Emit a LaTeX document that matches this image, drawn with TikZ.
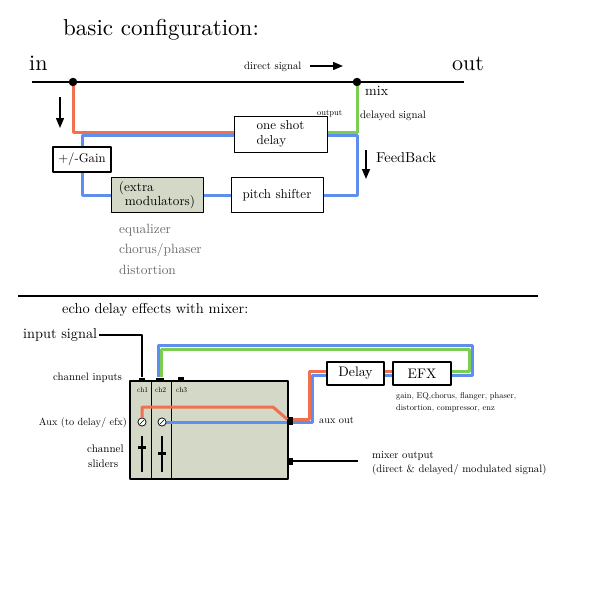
\documentclass[tikz,border=0pt]{standalone}
\usepackage{fontspec}
\setmainfont{lmroman10-regular.otf}
\usetikzlibrary{arrows.meta}
\definecolor{sigred}{RGB}{240,112,80}
\definecolor{sigblue}{RGB}{96,142,238}
\definecolor{siggreen}{RGB}{122,206,82}
\definecolor{panel}{RGB}{211,216,199}
\definecolor{fxgray}{RGB}{105,105,105}
\newcommand{\fsz}[1]{\fontsize{#1}{#1}\selectfont}
\begin{document}
\begin{tikzpicture}[x=1pt, y=-1pt, line join=round,
    txt/.style={inner sep=0pt, anchor=base west},
    box/.style={draw, line width=1pt, fill=white, inner sep=0pt, align=left,
      font=\fontsize{13}{15}\selectfont},
    sig/.style={line width=3pt},
    dot/.style={circle, fill, inner sep=0pt, minimum size=8.5pt},
    port/.style={fill, inner sep=0pt, minimum width=6pt, minimum height=4pt},
    knob/.style={circle, draw, fill=white, line width=0.6pt, inner sep=0pt, minimum size=8pt},
    arr/.style={-{Triangle[length=10pt,width=8pt]}, line width=1.4pt}]
  \useasboundingbox (0,0) rectangle (600,600);
  % basic configuration: the through line, in and out
  \node[txt, font=\fsz{23}] (title) at (63,35) {basic configuration:};
  \node[txt, font=\fsz{22}] (in) at (29,70) {in};
  \node[txt, font=\fsz{22}] (out) at (452,70) {out};
  \coordinate (lineL) at (32,82);
  \coordinate (lineR) at (464,82);
  \draw[line width=2.7pt] (lineL) -- (lineR);
  \node[dot] (split) at (73,82) {};
  \node[dot] (mix) at (357,82) {};
  \node[txt, font=\fsz{10.7}] (direct) at (244,69) {direct signal};
  \coordinate (dirA) at (310,66); \coordinate (dirB) at (343,66);
  \draw[arr] (dirA) -- (dirB);
  \node[txt, font=\fsz{14}] (mixlbl) at (365,95) {mix};
  \node[txt, font=\fsz{10.8}] (dlylbl) at (360,118) {delayed signal};
  \node[txt, font=\fsz{8.5}] (outlbl) at (317,115) {output};
  % the boxes of the loop
  \node[box, minimum width=93pt, minimum height=36pt] (delay) at (280.5,134) {one shot\\delay};
  \node[box, line width=1.6pt, minimum width=58pt, minimum height=25pt, font=\fsz{12.7}] (gain) at (82,159.5) {+/-Gain};
  \node[box, fill=panel, minimum width=92pt, minimum height=35pt, font=\fontsize{13.2}{14}\selectfont] (mods) at (157,195) {(extra\\\hspace*{6pt}modulators)};
  \node[box, minimum width=92pt, minimum height=35pt] (pitch) at (277,195) {pitch shifter};
  % signal lines
  \coordinate (dinR) at ([yshift=1.6pt]delay.west);
  \coordinate (dinB) at ([yshift=-1.6pt]delay.west);
  \coordinate (doutG) at ([yshift=1.6pt]delay.east);
  \coordinate (doutB) at ([yshift=-1.6pt]delay.east);
  \draw[sig, sigred] (split.south) |- (dinR);
  \draw[sig, sigblue] (dinB) -| (gain.north);
  \draw[sig, sigblue] (gain.south) |- (mods.west);
  \draw[sig, sigblue] (mods.east) -- (pitch.west);
  \draw[sig, sigblue] (pitch.east) -| (doutB -| mix) -- (doutB);
  \draw[sig, siggreen] (mix.south) |- (doutG);
  % arrows
  \coordinate (gainA) at (60,97); \coordinate (gainB) at (60,128);
  \draw[arr] (gainA) -- (gainB);
  \coordinate (fbA) at (366,150); \coordinate (fbB) at (366,179);
  \draw[arr] (fbA) -- (fbB);
  \node[txt, font=\fsz{14.4}] (fb) at (376,162) {FeedBack};
  % what the modulators can be
  \node[txt, font=\fsz{13.4}, text=fxgray] (fx1) at (119,233) {equalizer};
  \node[txt, font=\fsz{13.4}, text=fxgray] (fx2) at (119,253) {chorus/phaser};
  \node[txt, font=\fsz{13.4}, text=fxgray] (fx3) at (119,274) {distortion};
  \coordinate (sepL) at (18,296); \coordinate (sepR) at (538,296);
  \draw[line width=1.2pt] (sepL) -- (sepR);

  % echo delay with a mixer
  \node[txt, font=\fsz{14.4}] (title2) at (62,313) {echo delay effects with mixer:};
  \node[txt, font=\fsz{14.3}] (insig) at (23,338) {input signal};
  \node[draw, line width=1.3pt, fill=panel, minimum width=158pt, minimum height=98pt, inner sep=0pt] (mixer) at (209,430) {};
  \foreach \x in {22,42} {
    \draw[line width=0.8pt] ([xshift=\x pt]mixer.north west) -- ([xshift=\x pt]mixer.south west);
  }
  \node[port] (in1) at (142,379.5) {};
  \node[port, minimum width=8pt] (in2) at (160,379.5) {};
  \node[port] (in3) at (181,379) {};
  \foreach \x/\n in {137/1,155/2,176/3} {
    \node[txt, font=\fsz{7.5}] (ch\n) at (\x,392) {ch\n};
  }
  \node[txt, font=\fsz{10.8}] (chin) at (53,380) {channel inputs};
  \node[txt, anchor=base east, font=\fsz{10.3}] (auxlbl) at (127,425) {Aux (to delay/ efx)};
  \node[txt, font=\fsz{11}] (sl1) at (87,452) {channel};
  \node[txt, font=\fsz{11}] (sl2) at (88,467) {sliders};
  % sliders
  \draw[line width=1.2pt] (142,436) -- (142,472);
  \draw[line width=1.2pt] (162,436) -- (162,472);
  \fill (138,445.5) rectangle (146,448.5);
  \fill (158,451.5) rectangle (166,454.5);
  \node[port, minimum width=5pt, minimum height=8pt] (auxo) at (290,421) {};
  \node[port, minimum width=5pt, minimum height=7pt] (mixo) at (290,461) {};
  % aux sends inside the mixer
  \node[knob] (k1) at (142,422) {};
  \node[knob] (k2) at (162,422) {};
  \coordinate (bend) at (273,407);
  \draw[sig, sigred] (k1.north) |- (bend) -- ([yshift=1.6pt]auxo.west);
  \draw[sig, sigblue] (k2.east) -- (auxo.west |- k2.east);
  \foreach \k in {k1,k2} {
    \node[knob] at (\k) {};
    \draw[line width=0.6pt] ([shift={(-2,2)}]\k.center) -- ([shift={(2,-2)}]\k.center);
  }
  % delay and effects, back into ch2
  \node[box, line width=1.3pt, minimum width=57pt, minimum height=23pt, font=\fsz{13.8}] (dl) at (355.5,373.5) {Delay};
  \node[box, line width=1.3pt, minimum width=58pt, minimum height=23pt, font=\fsz{13.8}] (efx) at (422,373.5) {EFX};
  \coordinate (dlR) at ([yshift=1.6pt]dl.west);
  \coordinate (dlB) at ([yshift=-1.6pt]dl.west);
  \draw[sig, sigred] ([yshift=1.6pt]auxo.east) -| ([xshift=-17pt]dlR) -- (dlR);
  \draw[sig, sigblue] ([yshift=-1.6pt]auxo.east) -| ([xshift=-13.8pt]dlB) -- (dlB);
  \draw[sig, sigred] ([yshift=1.6pt]dl.east) -- ([yshift=1.6pt]efx.west);
  \draw[sig, sigblue] ([yshift=-1.6pt]dl.east) -- ([yshift=-1.6pt]efx.west);
  \coordinate (loopG) at (469.5,349);
  \coordinate (loopB) at (472.7,345.8);
  \draw[sig, siggreen] ([yshift=1.6pt]efx.east) -| (loopG) -| ([xshift=1.6pt]in2.north);
  \draw[sig, sigblue] ([yshift=-1.6pt]efx.east) -| (loopB) -| ([xshift=-1.6pt]in2.north);
  \draw[line width=2pt] ([xshift=2pt]insig.east) -| (in1.north);
  \node[txt, font=\fsz{8.4}] (efxl1) at (396,398) {gain, EQ,chorus, flanger, phaser,};
  \node[txt, font=\fsz{8.4}] (efxl2) at (396,410) {distortion, compressor, enz};
  \node[txt, font=\fsz{10.3}] (auxout) at (319,423) {aux out};
  \coordinate (mixend) at (358,461);
  \draw[line width=2pt] (mixo.east) -- (mixend);
  \node[txt, font=\fsz{10.7}] (mo1) at (372,458) {mixer output};
  \node[txt, font=\fsz{10.7}] (mo2) at (372,472) {(direct \& delayed/ modulated signal)};
\end{tikzpicture}
\end{document}
